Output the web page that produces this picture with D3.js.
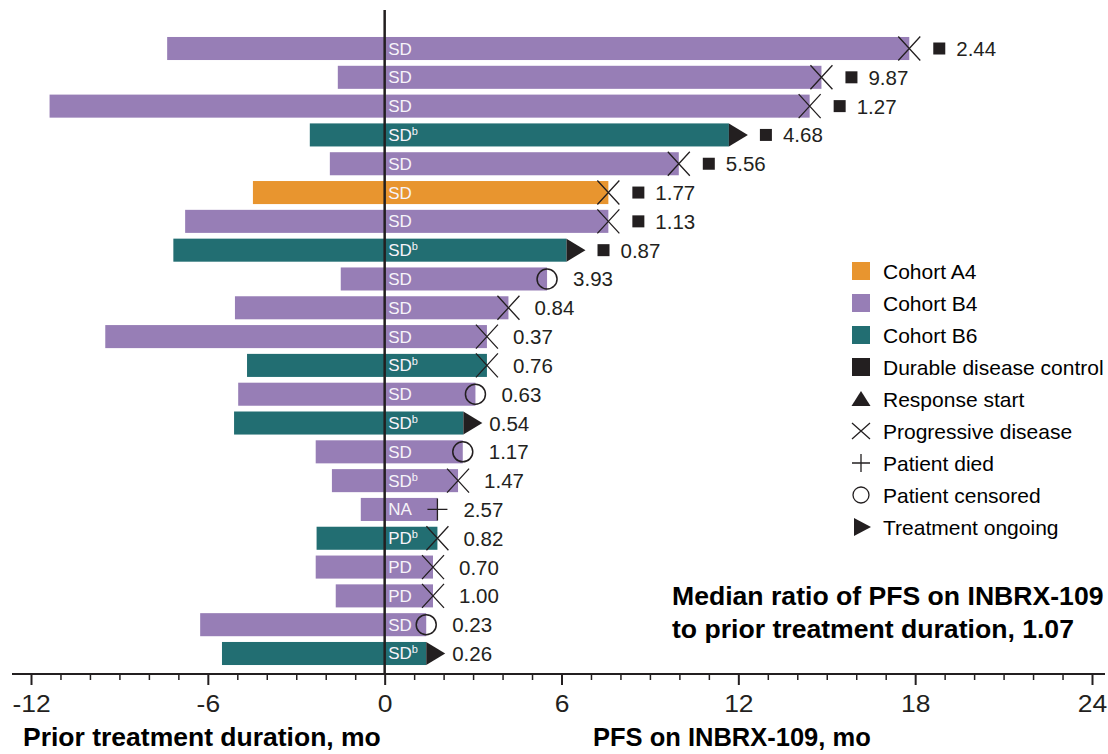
<!DOCTYPE html>
<html>
<head>
<meta charset="utf-8">
<script src="https://cdn.jsdelivr.net/npm/d3@7"></script>
<style>
  body { margin: 0; background: #fff; }
  svg { display: block; font-family: "Liberation Sans", Arial, sans-serif; }
</style>
</head>
<body>
<div id="chart"></div>
<script>
// one entry per patient, top to bottom
const responses = ["SD","SD","SD","SD","SD","SD","SD","SD","SD","SD","SD","SD","SD","SD","SD","SD","NA","PD","PD","PD","SD","SD"]
const footB = [false,false,false,true,false,false,false,true,false,false,false,true,false,true,false,true,false,true,false,false,false,true]
const cohorts = ["B4","B4","B4","B6","B4","A4","B4","B6","B4","B4","B4","B6","B4","B6","B4","B4","B4","B6","B4","B4","B4","B6"]
const priorDuration = [7.38, 1.59, 11.37, 2.54, 1.86, 4.47, 6.77, 7.17, 1.49, 5.08, 9.48, 4.67, 4.97, 5.11, 2.34, 1.79, 0.81, 2.31, 2.34, 1.66, 6.26, 5.52]
const pfs = [17.8, 14.82, 14.42, 11.68, 9.98, 7.59, 7.59, 6.17, 5.51, 4.2, 3.47, 3.47, 3.08, 2.67, 2.65, 2.49, 1.79, 1.79, 1.64, 1.64, 1.41, 1.41]
const endMarkers = ["x","x","x","tri","x","x","x","tri","circle","x","x","x","circle","tri","circle","x","plus","x","x","x","circle","tri"]
const durable = [true,true,true,true,true,true,true,true,false,false,false,false,false,false,false,false,false,false,false,false,false,false]
const ratios = ["2.44","9.87","1.27","4.68","5.56","1.77","1.13","0.87","3.93","0.84","0.37","0.76","0.63","0.54","1.17","1.47","2.57","0.82","0.70","1.00","0.23","0.26"]

const majorTicks = [-12, -6, 0, 6, 12, 18, 24]
const cohortNames = ["A4", "B4", "B6"]
const cohortColors = ["#e8952f", "#977eb6", "#226e72"]
const legendSymbols = ["Durable disease control", "Response start", "Progressive disease", "Patient died", "Patient censored", "Treatment ongoing"]
const medianText = ["Median ratio of PFS on INBRX-109", "to prior treatment duration, 1.07"]

const ink = "#231f20"
const width = 1108
const height = 754

const svg = d3.select("#chart").append("svg")
    .attr("width", width)
    .attr("height", height)

const x = d3.scaleLinear().domain([-12, 24]).range([31, 1092])
const y = d3.scaleBand()
    .domain(d3.range(responses.length))
    .range([34.1, 667.9])
    .paddingInner(0.2)
    .paddingOuter(0.1)
const color = d3.scaleOrdinal().domain(cohortNames).range(cohortColors)

const rows = responses.map((r, i) => ({
  i, r, b: footB[i], cohort: cohorts[i], prior: priorDuration[i], pfs: pfs[i],
  marker: endMarkers[i], durable: durable[i], ratio: ratios[i]
}))

// bars
svg.append("g").selectAll("rect")
    .data(rows)
    .join("rect")
    .attr("x", d => x(-d.prior))
    .attr("y", d => y(d.i))
    .attr("width", d => x(d.pfs) - x(-d.prior))
    .attr("height", y.bandwidth())
    .attr("fill", d => color(d.cohort))

// response labels inside bars
const lab = svg.append("g").selectAll("text")
    .data(rows)
    .join("text")
    .attr("x", x(0) + 3.5)
    .attr("y", d => y(d.i) + y.bandwidth() / 2 + 6)
    .attr("fill", "#f6f3f9")
    .attr("font-size", 17)
    .text(d => d.r)
lab.filter(d => d.b).append("tspan")
    .attr("font-size", 11)
    .attr("dy", -6)
    .text("b")

// end markers
const mk = svg.append("g")
    .attr("stroke", ink)
    .attr("fill", "none")
rows.forEach(d => {
  const ex = x(d.pfs)
  const cy = y(d.i) + y.bandwidth() / 2
  const h = y.bandwidth() / 2
  if (d.marker === "x") {
    mk.append("path")
        .attr("d", `M${ex - 11},${cy - 12}L${ex + 11},${cy + 12}M${ex - 11},${cy + 12}L${ex + 11},${cy - 12}`)
        .attr("stroke-width", 1.3)
  } else if (d.marker === "tri") {
    mk.append("path")
        .attr("d", `M${ex},${cy - h}L${ex + 19},${cy}L${ex},${cy + h}Z`)
        .attr("fill", ink)
        .attr("stroke", "none")
  } else if (d.marker === "circle") {
    mk.append("circle")
        .attr("cx", ex).attr("cy", cy).attr("r", 10)
        .attr("stroke-width", 1.5)
  } else if (d.marker === "plus") {
    mk.append("path")
        .attr("d", `M${ex - 10},${cy}L${ex + 10},${cy}M${ex},${cy - 11}L${ex},${cy + 11}`)
        .attr("stroke-width", 1.3)
  }
  let labelX = ex + 26
  if (d.durable) {
    const sq = ex + (d.marker === "tri" ? 31 : 24)
    svg.append("rect")
        .attr("x", sq).attr("y", cy - 6)
        .attr("width", 12).attr("height", 12)
        .attr("fill", ink)
    labelX = sq + 23
  }
  svg.append("text")
      .attr("x", labelX)
      .attr("y", cy + 7.5)
      .attr("font-size", 20.5)
      .attr("fill", ink)
      .text(d.ratio)
})

// zero line
svg.append("line")
    .attr("x1", x(0)).attr("x2", x(0))
    .attr("y1", 10).attr("y2", 674)
    .attr("stroke", ink)
    .attr("stroke-width", 2.5)

// x axis
const axisY = 674
const minor = svg.append("g")
    .attr("transform", `translate(0,${axisY})`)
    .call(d3.axisBottom(x).tickValues(d3.range(-12, 25).filter(v => v % 6 !== 0)).tickSize(6).tickFormat(""))
minor.select(".domain").remove()
minor.selectAll("line").attr("stroke", ink).attr("stroke-width", 1.5)

const major = svg.append("g")
    .attr("transform", `translate(0,${axisY})`)
    .call(d3.axisBottom(x).tickValues(majorTicks).tickSize(11).tickPadding(11).tickFormat(d => String(d)))
major.select(".domain").remove()
major.selectAll("line").attr("stroke", ink).attr("stroke-width", 2)
major.selectAll("text")
    .attr("font-size", 23)
    .attr("font-family", "Liberation Sans, Arial, sans-serif")
    .attr("fill", ink)
    .attr("dy", "0.71em")
    .attr("transform", "scale(1.15,1)")

svg.append("line")
    .attr("x1", 12).attr("x2", 1105)
    .attr("y1", axisY).attr("y2", axisY)
    .attr("stroke", ink)
    .attr("stroke-width", 2)

// axis titles
svg.append("text")
    .attr("x", 23).attr("y", 746)
    .attr("font-size", 26.5).attr("font-weight", "bold")
    .attr("fill", "#000")
    .text("Prior treatment duration, mo")
svg.append("text")
    .attr("x", 593).attr("y", 746)
    .attr("font-size", 25.5).attr("font-weight", "bold")
    .attr("fill", "#000")
    .text("PFS on INBRX-109, mo")

// median annotation
svg.append("g").selectAll("text")
    .data(medianText)
    .join("text")
    .attr("x", 672)
    .attr("y", (d, i) => 605 + i * 33)
    .attr("font-size", 26.6).attr("font-weight", "bold")
    .attr("fill", "#000")
    .text(d => d)

// legend
const lg = svg.append("g").attr("transform", "translate(852,0)")
const legendItems = cohortNames.map(c => ({ label: "Cohort " + c, kind: "cohort", c }))
    .concat(legendSymbols.map(s => ({ label: s, kind: s })))
legendItems.forEach((d, i) => {
  const cy = 271 + i * 32
  const g = lg.append("g")
  if (d.kind === "cohort") {
    g.append("rect").attr("x", 0).attr("y", cy - 9).attr("width", 18).attr("height", 18).attr("fill", color(d.c))
  } else if (d.kind === "Durable disease control") {
    g.append("rect").attr("x", 0).attr("y", cy - 9).attr("width", 18).attr("height", 18).attr("fill", ink)
  } else if (d.kind === "Response start") {
    g.append("path").attr("d", `M9,${cy - 8}L18.5,${cy + 7}L-0.5,${cy + 7}Z`).attr("fill", ink)
  } else if (d.kind === "Progressive disease") {
    g.append("path").attr("d", `M0,${cy - 8}L18,${cy + 8}M0,${cy + 8}L18,${cy - 8}`).attr("stroke", ink).attr("stroke-width", 1.3)
  } else if (d.kind === "Patient died") {
    g.append("path").attr("d", `M0,${cy}L18,${cy}M9,${cy - 9}L9,${cy + 9}`).attr("stroke", ink).attr("stroke-width", 1.3)
  } else if (d.kind === "Patient censored") {
    g.append("circle").attr("cx", 9).attr("cy", cy).attr("r", 8).attr("fill", "none").attr("stroke", ink).attr("stroke-width", 1.3)
  } else if (d.kind === "Treatment ongoing") {
    g.append("path").attr("d", `M2,${cy - 9}L19,${cy}L2,${cy + 9}Z`).attr("fill", ink)
  }
  g.append("text")
      .attr("x", 31)
      .attr("y", cy + 7.5)
      .attr("font-size", 21)
      .attr("fill", "#000")
      .text(d.label)
})
</script>
</body>
</html>
